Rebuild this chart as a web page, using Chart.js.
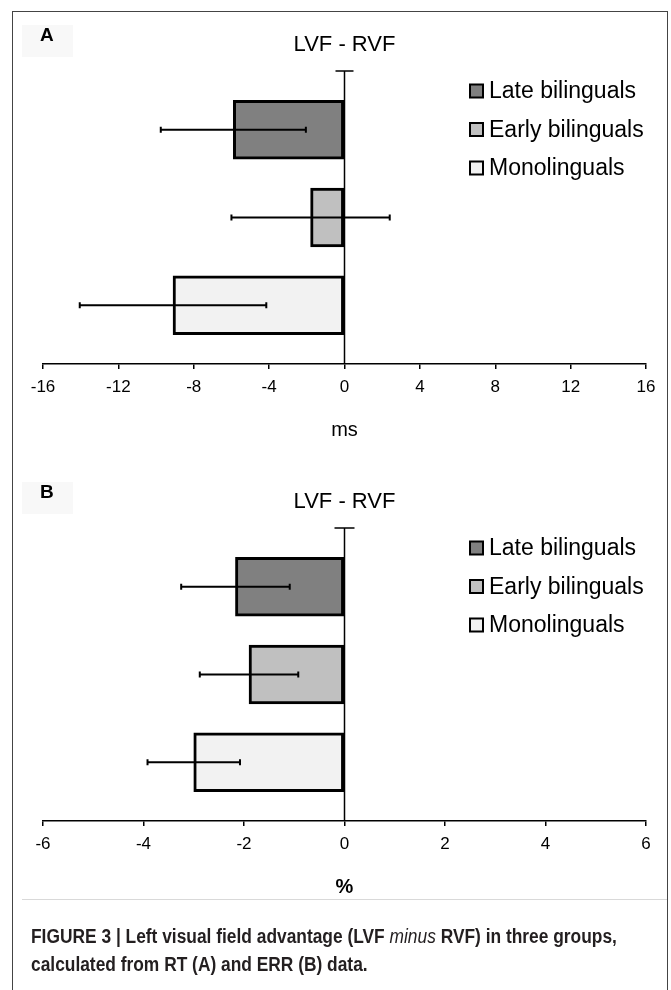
<!DOCTYPE html>
<html lang="en">
<head>
  <meta charset="UTF-8">
  <title>Figure 3 - LVF minus RVF</title>
  <script src="https://cdn.jsdelivr.net/npm/chart.js@4"></script>
  <style>
    body { margin: 0; background: #fff; }
    #page { position: relative; width: 671px; height: 990px; overflow: hidden; }
    .panel { position: absolute; left: 0; }
    #frame { position: absolute; left: 12px; top: 11px; width: 656px; height: 990px; border: 1.5px solid #444; border-bottom: none; box-sizing: border-box; pointer-events: none; }
    #rule { position: absolute; left: 22px; width: 645px; top: 899px; height: 1px; background: #d9d9d9; }
    #caption { position: absolute; left: 31px; top: 922px; font: bold 20px/28px "Liberation Sans", Arial, sans-serif; color: #231f20; white-space: nowrap; transform: scaleX(0.868); transform-origin: left top; }
    #caption i { font-weight: normal; }
  </style>
</head>
<body>
  <div id="page">
    <canvas id="chartA" class="panel" style="top:0" width="671" height="457"></canvas>
    <canvas id="chartB" class="panel" style="top:457px" width="671" height="457"></canvas>
    <div id="rule"></div>
    <div id="frame"></div>
    <div id="caption">FIGURE 3 | Left visual field advantage (LVF <i>minus</i> RVF) in three groups,<br>calculated from RT (A) and ERR (B) data.</div>
  </div>

  <script>
    // groups and fills
    const groups = ['Late bilinguals', 'Early bilinguals', 'Monolinguals'];
    const fills = ['#808080', '#c0c0c0', '#f2f2f2'];

    // panel A: reaction time difference (ms)
    const rtDiff = [-5.9, -1.8, -9.1];
    const rtErr = [3.85, 4.2, 4.95];
    const rtTicks = [-16, -12, -8, -4, 0, 4, 8, 12, 16];

    // panel B: error rate difference (%)
    const errDiff = [-2.17, -1.9, -3.0];
    const errErr = [1.08, 0.98, 0.92];
    const errTicks = [-6, -4, -2, 0, 2, 4, 6];

    Chart.defaults.font.family = '"Liberation Sans", Arial, sans-serif';
    Chart.defaults.color = '#000';

    const figureDeco = {
      id: 'figureDeco',
      beforeDraw(chart, args, opts) {
        const ctx = chart.ctx;
        ctx.save();
        ctx.fillStyle = '#f8f8f8';
        ctx.fillRect(22, 25, 51, 32);
        ctx.fillStyle = '#000';
        ctx.font = 'bold 19px "Liberation Sans", Arial, sans-serif';
        ctx.textBaseline = 'middle';
        ctx.fillText(opts.letter, 40, 36);
        ctx.restore();
      },
      afterDatasetsDraw(chart, args, opts) {
        const ctx = chart.ctx, x = chart.scales.x, area = chart.chartArea;
        const meta = chart.getDatasetMeta(0);
        ctx.save();
        ctx.strokeStyle = '#000';

        // error bars
        ctx.lineWidth = 2;
        opts.errors.forEach((e, i) => {
          const v = opts.values[i], y = meta.data[i].y;
          const a = x.getPixelForValue(v - e), b = x.getPixelForValue(v + e);
          ctx.beginPath();
          ctx.moveTo(a, y); ctx.lineTo(b, y);
          ctx.moveTo(a, y - 3); ctx.lineTo(a, y + 3);
          ctx.moveTo(b, y - 3); ctx.lineTo(b, y + 3);
          ctx.stroke();
        });

        // vertical axis at zero with a cap on top
        const x0 = x.getPixelForValue(0);
        ctx.lineWidth = 1.5;
        ctx.beginPath();
        ctx.moveTo(x0, area.top); ctx.lineTo(x0, area.bottom);
        ctx.moveTo(x0 - opts.cap, area.top); ctx.lineTo(x0 + opts.cap, area.top);
        ctx.stroke();

        // legend inside the plot
        const lx = area.right - 176;
        ctx.font = '23px "Liberation Sans", Arial, sans-serif';
        ctx.textBaseline = 'middle';
        groups.forEach((g, i) => {
          const cy = area.top + 20 + i * 38.5;
          ctx.fillStyle = fills[i];
          ctx.fillRect(lx, cy - 6.5, 13, 13);
          ctx.lineWidth = 2;
          ctx.strokeRect(lx, cy - 6.5, 13, 13);
          ctx.fillStyle = '#000';
          ctx.fillText(g, lx + 19, cy + 1);
        });
        ctx.restore();
      }
    };

    function makeChart(id, letter, values, errors, ticks, unit, unitBold, cap) {
      return new Chart(document.getElementById(id), {
        type: 'bar',
        data: {
          datasets: [{
            data: values.map((v, i) => ({ x: v, y: i })),
            backgroundColor: fills,
            borderColor: '#000',
            borderWidth: 3,
            borderSkipped: false,
            barThickness: 59
          }]
        },
        options: {
          indexAxis: 'y',
          responsive: false,
          animation: false,
          devicePixelRatio: 1,
          layout: { padding: { top: 30, left: 43, right: 25, bottom: 15 } },
          scales: {
            y: { type: 'linear', display: false, reverse: true, offset: false, min: -0.67, max: 2.67 },
            x: {
              type: 'linear',
              position: 'bottom',
              min: ticks[0],
              max: ticks[ticks.length - 1],
              afterBuildTicks: s => { s.ticks = ticks.map(v => ({ value: v })); },
              border: { display: true, color: '#000', width: 1.5 },
              grid: { display: true, drawOnChartArea: false, drawTicks: true, tickLength: 5, color: '#000', lineWidth: 1.5 },
              ticks: { padding: 8, font: { size: 17 }, color: '#000' },
              title: {
                display: true, text: unit, color: '#000',
                font: { size: 20, weight: unitBold ? 'bold' : 'normal' },
                padding: { top: 12.6, bottom: 0 }
              }
            }
          },
          plugins: {
            legend: { display: false },
            tooltip: { enabled: false },
            title: {
              display: true, text: 'LVF - RVF', color: '#000',
              font: { size: 22, weight: 'normal' },
              padding: { top: 2, bottom: 12.6 }
            },
            figureDeco: { letter: letter, values: values, errors: errors, cap: cap }
          }
        },
        plugins: [figureDeco]
      });
    }

    makeChart('chartA', 'A', rtDiff, rtErr, rtTicks, 'ms', false, 9);
    makeChart('chartB', 'B', errDiff, errErr, errTicks, '%', true, 10);
  </script>
</body>
</html>
